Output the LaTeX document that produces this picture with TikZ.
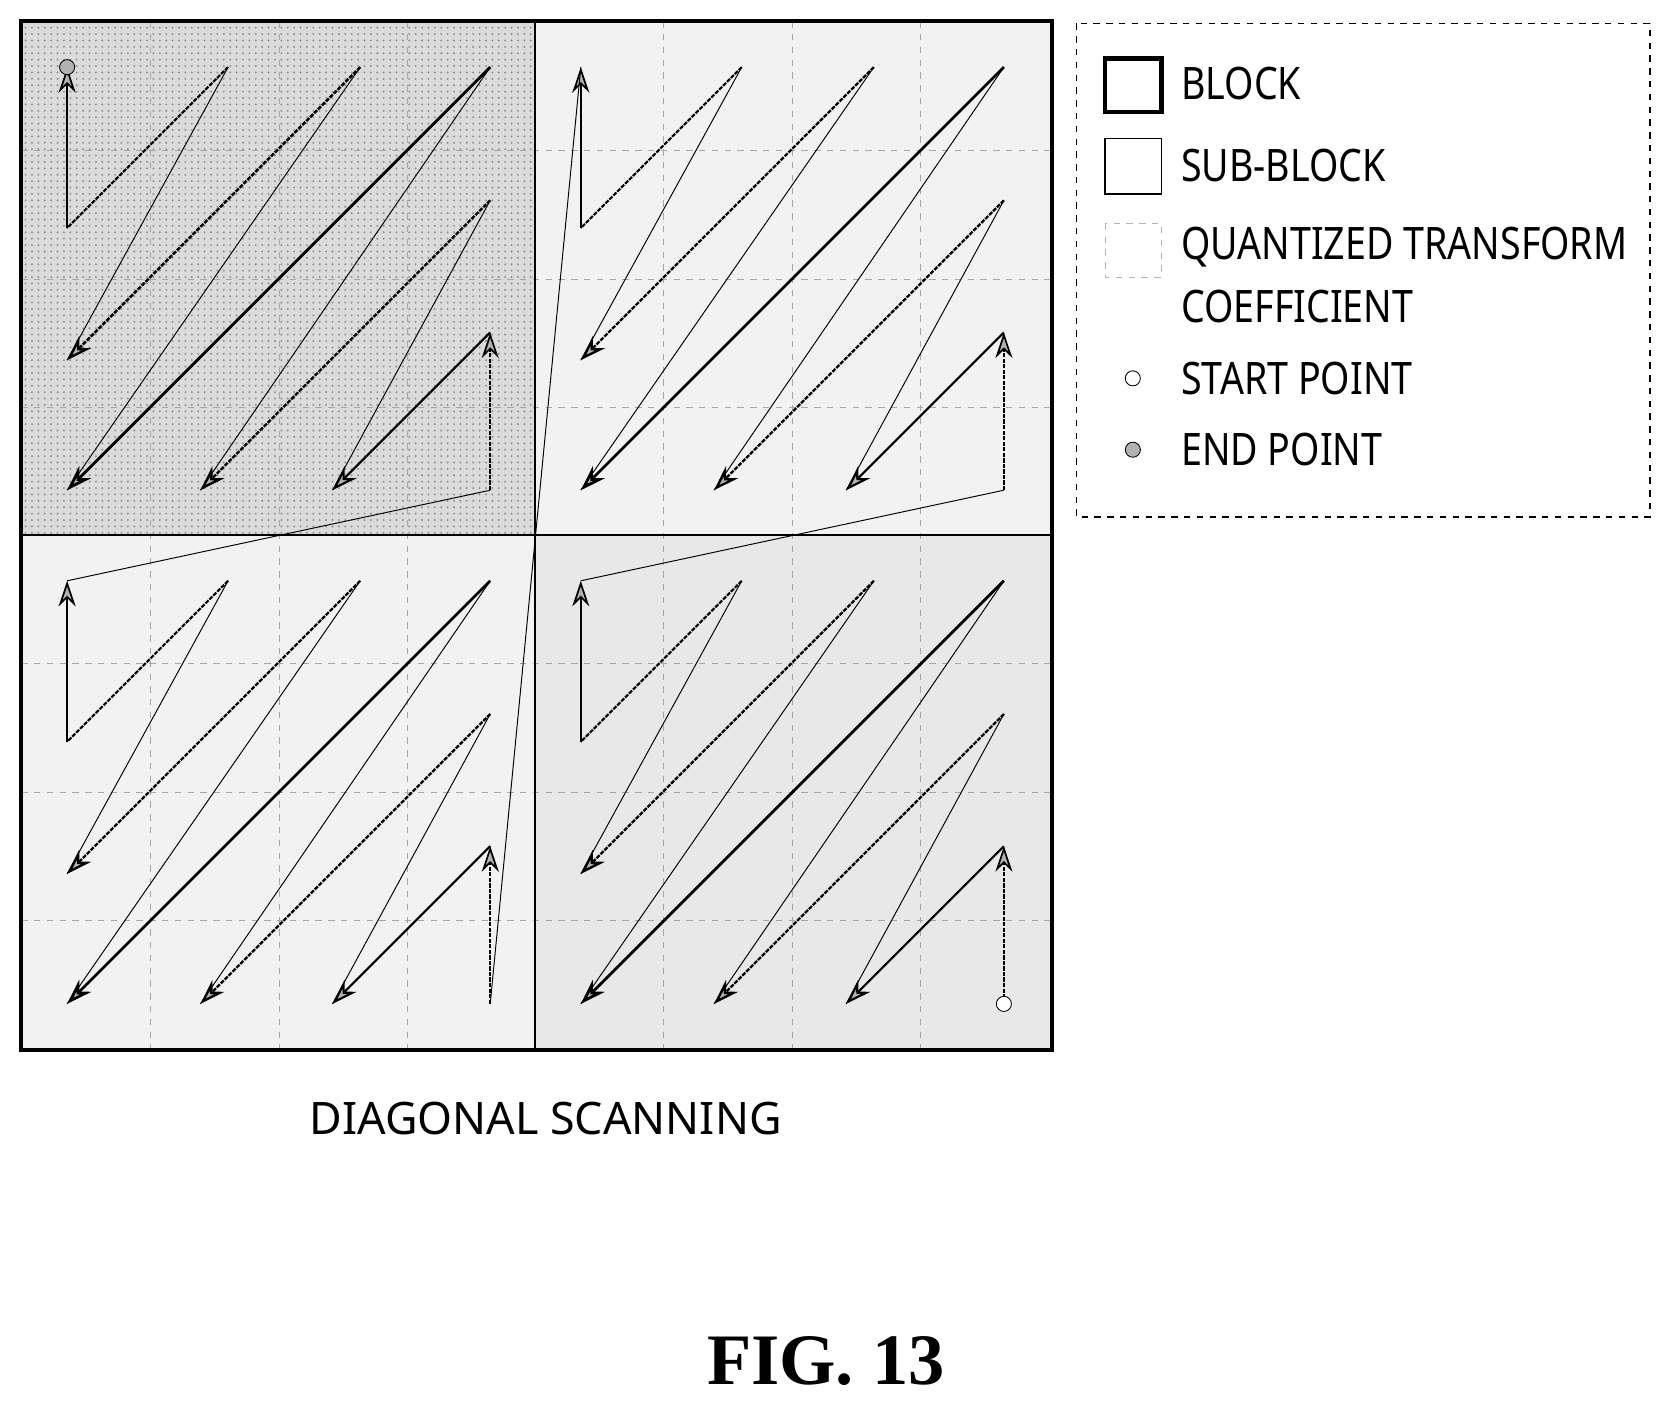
\documentclass[tikz,border=0pt]{standalone}
\usepackage{fontspec}
\setmainfont{Noto Sans}
\newfontfamily\legfont[FakeStretch=0.84]{Noto Sans}
\newfontfamily\figfont{Liberation Serif}
\usetikzlibrary{arrows.meta,patterns}
\begin{document}
\begin{tikzpicture}[x=0.5pt,y=-0.5pt,
  arr/.style={line width=1.3pt,-{Stealth[length=12pt,width=8pt,fill=gray!60]}},
  darr/.style={line width=1.1pt,dash pattern=on 2pt off 0.6pt,-{Stealth[length=12pt,width=8pt,fill=gray!60]}},
  jmp/.style={line width=0.45pt},
  txt/.style={anchor=west,font=\legfont\fontsize{21}{24}\selectfont,inner sep=0pt},
  grid/.style={gray!70,dashed,line width=0.5pt}]
\useasboundingbox (0,0) rectangle (1568,1322);
\fill[gray!28] (20,20) rectangle (502,502);
\fill[pattern=dots,pattern color=gray!90] (20,20) rectangle (502,502);
\fill[gray!10] (502,20) rectangle (987,502);
\fill[gray!10] (20,502) rectangle (502,985);
\fill[gray!18] (502,502) rectangle (987,985);
\foreach \v in {141,262,382,623,744,864}{
  \draw[grid] (\v,20) -- (\v,985);
  \draw[grid] (20,\v) -- (987,\v);}
\draw[line width=0.7pt] (502,20) -- (502,985) (20,502) -- (987,502);
\draw[line width=2pt] (20,20) rectangle (987,985);
\foreach \s/\ox/\oy in {TL/20/20,TR/502/20,BL/20/502,BR/502/502}{
  \foreach \c/\cx in {0/43,1/168,2/292,3/440}{
    \foreach \r/\ry in {0/43,1/168,2/292,3/440}{
      \coordinate (\s-\c\r) at (\ox+\cx,\oy+\ry);}}
  \coordinate (\s-t1) at (\ox+194,\oy+43);
  \coordinate (\s-t2) at (\ox+318,\oy+43);
  \coordinate (\s-l1) at (\ox+43,\oy+194);
  \coordinate (\s-l2) at (\ox+43,\oy+318);
  \draw[darr,line width=0.8pt] (\s-33) -- (\s-32);
  \draw[arr,line width=1pt] (\s-32) -- (\s-23);
  \draw[jmp] (\s-23) -- (\s-31);
  \draw[darr] (\s-31) -- (\s-13);
  \draw[jmp] (\s-13) -- (\s-30);
  \draw[arr] (\s-30) -- (\s-03);
  \draw[jmp] (\s-03) -- (\s-t2);
  \draw[darr] (\s-t2) -- (\s-l2);
  \draw[jmp] (\s-l2) -- (\s-t1);
  \draw[line width=1pt,dash pattern=on 2pt off 0.6pt] (\s-t1) -- (\s-l1);
  \draw[arr,line width=0.8pt] (\s-l1) -- (\s-00);
}
\draw[jmp] (BR-00) -- (TR-33);
\draw[jmp] (TR-00) -- (BL-33);
\draw[jmp] (BL-00) -- (TL-33);
\node[circle,draw,fill=white,inner sep=2.5pt] (sp) at (BR-33) {};
\node[circle,draw,fill=gray!60,inner sep=2.5pt] (ep) at (TL-00) {};
% legend
\draw[dashed,line width=0.8pt] (1010,22) rectangle (1548,485);
\draw[line width=2pt] (1037,55) rectangle (1090,105);
\draw[line width=0.8pt] (1037,130) rectangle (1090,182);
\draw[gray!60,dashed] (1037,210) rectangle (1090,260);
\node[circle,draw,inner sep=2.5pt] (ls) at (1063,355) {};
\node[circle,draw,fill=gray!60,inner sep=2.5pt] (le) at (1063,422) {};
\node[txt] (t1) at (1108,78) {BLOCK};
\node[txt] (t2) at (1108,155) {SUB-BLOCK};
\node[txt] (t3) at (1108,232) {QUANTIZED TRANSFORM};
\node[txt] (t4) at (1108,288) {COEFFICIENT};
\node[txt] (t5) at (1108,355) {START POINT};
\node[txt] (t6) at (1108,422) {END POINT};
\node[font=\fontsize{21}{24}\selectfont] (cap) at (512,1050) {DIAGONAL SCANNING};
\node[font=\figfont\bfseries\fontsize{34}{38}\selectfont] (fig) at (775,1277) {FIG. 13};
\end{tikzpicture}
\end{document}
